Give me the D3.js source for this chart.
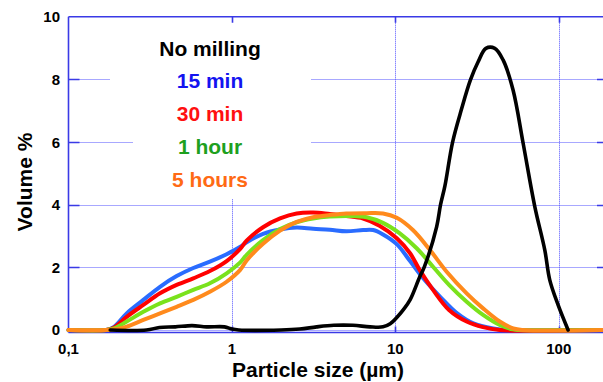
<!DOCTYPE html>
<html>
<head>
<meta charset="utf-8">
<script src="https://cdn.jsdelivr.net/npm/d3@7"></script>
<style>
  body { margin: 0; background: #fff; }
  svg { display: block; font-family: "Liberation Sans", Arial, sans-serif; font-weight: bold; }
</style>
</head>
<body>
<svg id="chart" width="603" height="382"></svg>
<script>
// particle size (µm) / volume % pairs
const noMilling = [[0.18,0],[0.3,0],[0.36,0.08],[0.45,0.1],[0.57,0.14],[0.7,0.1],[0.9,0.1],[1.0,0.03],[1.1,0],[2.0,0],
  [2.6,0.03],[3.3,0.1],[4.2,0.15],[5.5,0.15],[7,0.1],[8.4,0.1],[9.3,0.2],[10.2,0.4],[11.2,0.65],[12.3,0.96],
  [14.1,1.7],[15.0,2.0],[17.9,3.3],[18.9,4.0],[20.1,4.6],[22.4,6.0],[25.4,7.05],[28.8,7.98],[32.1,8.56],
  [35.8,8.99],[40.6,8.99],[45.6,8.62],[52.5,7.66],[60.5,5.96],[71.3,3.94],[82.1,2.55],[88,1.6],[99,0.8],[114,0]];
const min15 = [[0.1,0],[0.17,0],[0.19,0.1],[0.227,0.53],[0.287,0.96],[0.363,1.38],[0.459,1.72],[0.58,1.98],[0.733,2.18],
  [0.928,2.42],[1.12,2.65],[1.23,2.8],[1.55,3.07],[1.97,3.21],[2.49,3.27],[3.14,3.23],[3.97,3.2],[5.01,3.15],[6.35,3.19],
  [7.31,3.19],[8.4,3.05],[10.2,2.74],[12.3,2.2],[14.8,1.65],[18.8,1.06],[23.9,0.53],[30.0,0.21],[39.7,0.05],[50,0],[200,0]];
const min30 = [[0.1,0],[0.17,0],[0.19,0.08],[0.227,0.42],[0.287,0.8],[0.363,1.17],[0.459,1.44],[0.58,1.65],[0.733,1.88],
  [0.928,2.2],[1.12,2.58],[1.23,2.85],[1.55,3.28],[1.97,3.56],[2.49,3.72],[3.14,3.75],[3.97,3.7],[5.01,3.64],[6.35,3.56],
  [8.0,3.33],[10.2,2.93],[12.3,2.45],[14.1,1.91],[17.0,1.28],[21.3,0.64],[27.3,0.27],[34.4,0.09],[43.5,0],[200,0]];
const hour1 = [[0.1,0],[0.17,0],[0.19,0.05],[0.227,0.27],[0.287,0.58],[0.363,0.85],[0.459,1.06],[0.58,1.28],[0.733,1.49],
  [0.928,1.81],[1.12,2.15],[1.23,2.4],[1.55,2.87],[1.97,3.22],[2.49,3.44],[3.14,3.56],[3.97,3.62],[5.28,3.64],[6.67,3.6],
  [8.4,3.42],[10.6,3.09],[13.5,2.61],[17.0,2.02],[21.3,1.44],[27.3,0.9],[34.4,0.48],[43.5,0.16],[52.6,0.02],[57,0],[200,0]];
const hours5 = [[0.1,0],[0.17,0],[0.2,0.04],[0.227,0.11],[0.287,0.32],[0.363,0.53],[0.459,0.74],[0.58,0.96],[0.733,1.22],
  [0.928,1.54],[1.12,1.91],[1.23,2.22],[1.55,2.75],[1.97,3.17],[2.49,3.45],[3.14,3.6],[3.97,3.67],[5.01,3.72],[6.67,3.73],
  [8.4,3.72],[10.2,3.58],[12.8,3.19],[16.3,2.55],[20.6,1.86],[27.3,1.17],[34.4,0.69],[43.5,0.27],[52.6,0.05],[60,0],[200,0]];

const xTicks = [0.1, 1, 10, 100];
const xTickLabels = ['0,1', '1', '10', '100'];
const yTicks = [0, 2, 4, 6, 8, 10];
const legendLabels = ['No milling', '15 min', '30 min', '1 hour', '5 hours'];

const axisBlue = '#3a3ae6';
const gridBlue = '#5050ff';
const lineColors = ['#000000', '#2a6cff', '#ff0000', '#7ae21c', '#ff8a1c'];
const textColors = ['#000000', '#1414f0', '#ff1010', '#1ea01e', '#ff6a14'];

const svg = d3.select('#chart');

const plotLeft = 68.5, plotRight = 608, plotTop = 16.7, plotBottom = 332.5;
const x = d3.scaleLog().domain([0.1, 200]).range([plotLeft, plotRight]);
const y = d3.scaleLinear().domain([-0.08, 10]).range([plotBottom, plotTop]);
const px = v => Math.round(v) + 0.5;

// dotted grid
const grid = svg.append('g')
  .attr('stroke', gridBlue)
  .attr('stroke-width', 1)
  .attr('stroke-dasharray', '1,1');
grid.selectAll('.hg')
  .data(yTicks.filter(d => d < 10))
  .enter().append('line')
  .attr('x1', plotLeft).attr('x2', plotRight)
  .attr('y1', d => px(y(d))).attr('y2', d => px(y(d)));
grid.selectAll('.vg')
  .data(xTicks.slice(1))
  .enter().append('line')
  .attr('x1', d => px(x(d))).attr('x2', d => px(x(d)))
  .attr('y1', plotTop).attr('y2', plotBottom);

// the legend sits on a white box that hides the grid
svg.append('path')
  .attr('fill', '#fff')
  .attr('d', 'M110,18H311V199H133V100H110Z');

// frame and ticks
const frame = svg.append('g').attr('stroke', axisBlue).attr('stroke-width', 1.6);
frame.append('line').attr('x1', plotLeft).attr('x2', plotLeft).attr('y1', plotTop).attr('y2', plotBottom);
frame.append('line').attr('x1', plotLeft).attr('x2', plotRight).attr('y1', plotTop).attr('y2', plotTop);
frame.append('line').attr('x1', plotLeft).attr('x2', plotRight).attr('y1', plotBottom).attr('y2', plotBottom);
frame.append('line').attr('x1', plotRight).attr('x2', plotRight).attr('y1', plotTop).attr('y2', plotBottom);
frame.selectAll('.yt')
  .data(yTicks.filter(d => d > 0 && d < 10))
  .enter().append('path')
  .attr('d', d => 'M' + plotLeft + ',' + px(y(d)) + 'h11M' + plotRight + ',' + px(y(d)) + 'h-11');
frame.selectAll('.xt')
  .data(xTicks.slice(1))
  .enter().append('path')
  .attr('d', d => 'M' + px(x(d)) + ',' + plotTop + 'v6M' + px(x(d)) + ',' + plotBottom + 'v-6');

// curves
const line = d3.line()
  .x(d => x(d[0]))
  .y(d => y(d[1]))
  .curve(d3.curveCatmullRom.alpha(0.5));

const series = [min15, min30, hour1, hours5, noMilling];
const seriesColors = [lineColors[1], lineColors[2], lineColors[3], lineColors[4], lineColors[0]];
svg.append('g')
  .attr('fill', 'none')
  .attr('stroke-linejoin', 'round')
  .attr('stroke-linecap', 'round')
  .selectAll('path')
  .data(series)
  .enter().append('path')
  .attr('d', line)
  .attr('stroke', (d, i) => seriesColors[i])
  .attr('stroke-width', (d, i) => i === 4 ? 3.6 : 4);

// tick labels
svg.append('g')
  .attr('font-size', 15)
  .attr('text-anchor', 'end')
  .selectAll('text')
  .data(yTicks)
  .enter().append('text')
  .attr('x', 60)
  .attr('y', d => y(d) + 5.5)
  .text(d => d);

svg.append('g')
  .attr('font-size', 15)
  .attr('text-anchor', 'middle')
  .selectAll('text')
  .data(xTicks)
  .enter().append('text')
  .attr('x', d => x(d))
  .attr('y', 354)
  .text((d, i) => xTickLabels[i]);

// axis titles
svg.append('text')
  .attr('font-size', 20)
  .attr('text-anchor', 'middle')
  .attr('transform', 'translate(318,377) scale(1.05,1)')
  .text('Particle size (µm)');

svg.append('text')
  .attr('font-size', 21)
  .attr('text-anchor', 'middle')
  .attr('transform', 'translate(32,182) rotate(-90)')
  .text('Volume %');

// legend
svg.append('g')
  .attr('font-size', 21)
  .attr('text-anchor', 'middle')
  .selectAll('text')
  .data(legendLabels)
  .enter().append('text')
  .attr('x', 210)
  .attr('y', (d, i) => 55.5 + i * 32.8)
  .attr('fill', (d, i) => textColors[i])
  .text(d => d);
</script>
</body>
</html>
